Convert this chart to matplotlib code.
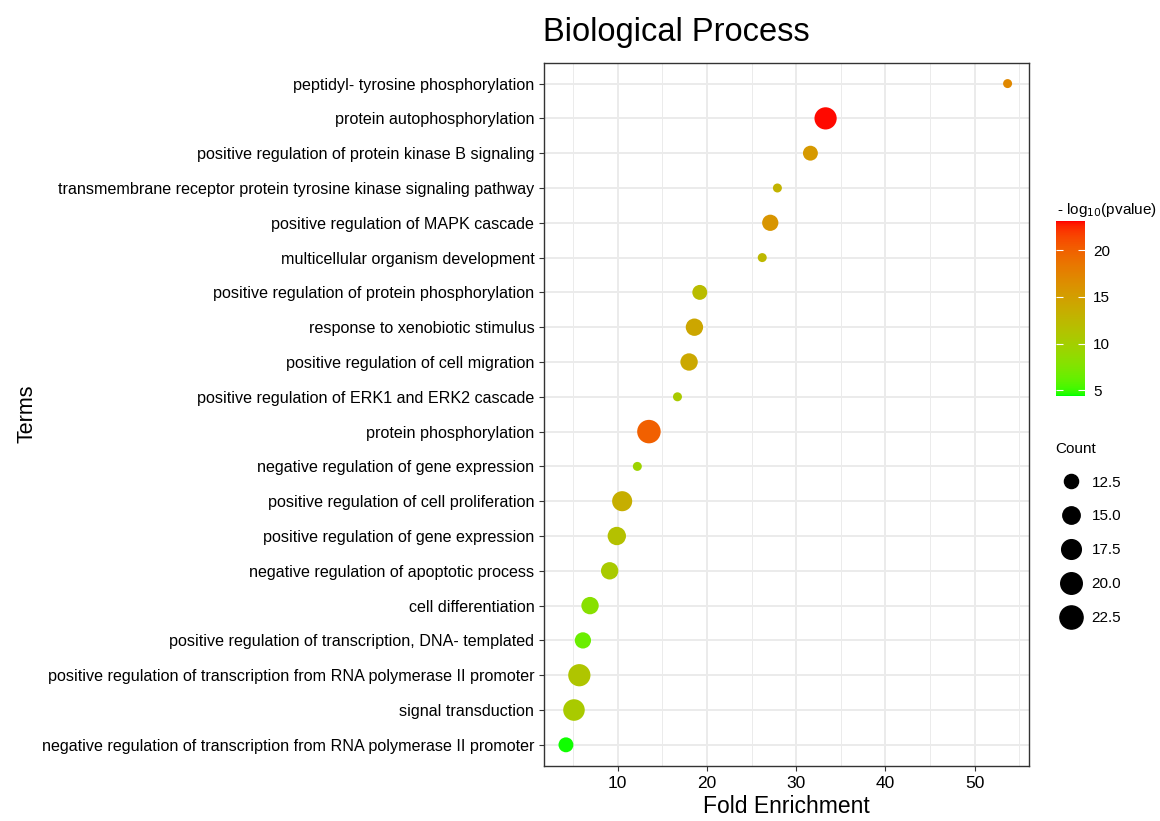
import numpy as np
import matplotlib
matplotlib.use("Agg")
import matplotlib.pyplot as plt
from matplotlib.colors import ListedColormap, Normalize
from matplotlib.lines import Line2D

plt.rcParams['font.family'] = ['Liberation Sans', 'DejaVu Sans']

# data (top to bottom as in the chart)
terms = [
    "peptidyl- tyrosine phosphorylation",
    "protein autophosphorylation",
    "positive regulation of protein kinase B signaling",
    "transmembrane receptor protein tyrosine kinase signaling pathway",
    "positive regulation of MAPK cascade",
    "multicellular organism development",
    "positive regulation of protein phosphorylation",
    "response to xenobiotic stimulus",
    "positive regulation of cell migration",
    "positive regulation of ERK1 and ERK2 cascade",
    "protein phosphorylation",
    "negative regulation of gene expression",
    "positive regulation of cell proliferation",
    "positive regulation of gene expression",
    "negative regulation of apoptotic process",
    "cell differentiation",
    "positive regulation of transcription, DNA- templated",
    "positive regulation of transcription from RNA polymerase II promoter",
    "signal transduction",
    "negative regulation of transcription from RNA polymerase II promoter",
]
fold = [53.7, 33.3, 31.6, 27.9, 27.1, 26.2, 19.2, 18.6, 18.0, 16.7,
        13.5, 12.2, 10.5, 9.9, 9.1, 6.9, 6.1, 5.7, 5.1, 4.2]
neglogp = [17.0, 23.0, 15.5, 13.0, 15.8, 12.5, 12.0, 14.2, 14.0, 10.5,
           20.0, 9.5, 13.5, 11.5, 10.5, 8.0, 6.5, 11.0, 10.5, 4.5]
count = [11, 21, 13, 11, 14, 11, 13, 15, 15, 11,
         23, 11, 18, 16, 15, 15, 14, 21, 20, 13]
count_breaks = [12.5, 15.0, 17.5, 20.0, 22.5]
cb_ticks = [5, 10, 15, 20]


# green -> red gradient interpolated in Lab space (like ggplot)
def to_lab(rgb):
    rgb = np.asarray(rgb, float)
    c = np.where(rgb <= 0.04045, rgb / 12.92, ((rgb + 0.055) / 1.055) ** 2.4)
    M = np.array([[0.4124, 0.3576, 0.1805], [0.2126, 0.7152, 0.0722], [0.0193, 0.1192, 0.9505]])
    xyz = M @ c / np.array([0.95047, 1.0, 1.08883])
    f = np.where(xyz > 0.008856, np.cbrt(xyz), 7.787 * xyz + 16 / 116)
    return np.array([116 * f[1] - 16, 500 * (f[0] - f[1]), 200 * (f[1] - f[2])])


def from_lab(lab):
    L, a, b = lab
    fy = (L + 16) / 116
    fx = fy + a / 500
    fz = fy - b / 200
    f = np.array([fx, fy, fz])
    xyz = np.where(f ** 3 > 0.008856, f ** 3, (f - 16 / 116) / 7.787) * np.array([0.95047, 1.0, 1.08883])
    Minv = np.array([[3.2406, -1.5372, -0.4986], [-0.9689, 1.8758, 0.0415], [0.0557, -0.2040, 1.0570]])
    c = Minv @ xyz
    c = np.clip(c, 0, 1)
    rgb = np.where(c <= 0.0031308, 12.92 * c, 1.055 * c ** (1 / 2.4) - 0.055)
    return np.clip(rgb, 0, 1)


lo, hi = to_lab([0, 1, 0]), to_lab([1, 0, 0])
cmap = ListedColormap([from_lab(lo + t * (hi - lo)) for t in np.linspace(0, 1, 256)])
norm = Normalize(vmin=4.4, vmax=23.1)

# size scale: diameter grows with sqrt of rescaled count
cmin, cmax = min(count), max(count)
def diam(c):
    return (9 + 14.5 * np.sqrt((np.asarray(c, float) - cmin) / (cmax - cmin))) * 0.72

fig = plt.figure(figsize=(11.6, 8.21), dpi=100)
ax = fig.add_axes([544 / 1160, 1 - 765.7 / 821, 485 / 1160, 703 / 821])

n = len(terms)
ypos = np.arange(n, 0, -1)
ax.scatter(fold, ypos, s=diam(count) ** 2, c=neglogp, cmap=cmap, norm=norm,
           edgecolors='none', zorder=3)

ax.set_xlim(1.74, 56.1)
ax.set_ylim(0.4, n + 0.6)
ax.set_xticks([10, 20, 30, 40, 50])
ax.set_xticks([5, 15, 25, 35, 45, 55], minor=True)
ax.set_yticks(ypos)
ax.set_yticklabels(terms)
ax.tick_params(axis='y', labelsize=11.65, colors='#333333', length=3.5, labelcolor='black')
ax.tick_params(axis='x', labelsize=12.5, colors='#333333', length=3.5, labelcolor='black', pad=4)
ax.tick_params(axis='x', which='minor', length=0)
ax.grid(True, which='major', color='#EBEBEB', lw=1.4, zorder=0)
ax.grid(True, which='minor', axis='x', color='#EBEBEB', lw=0.7, zorder=0)
for s in ax.spines.values():
    s.set_color('#333333')
    s.set_linewidth(1.0)

ax.set_xlabel("Fold Enrichment", fontsize=16.5, labelpad=3)
ax.set_ylabel("Terms", fontsize=15.5)
ax.yaxis.set_label_coords(-1.044, 0.5)
fig.text(676 / 1160, 1 - 33 / 821, "Biological Process", fontsize=23.5, ha='center', va='center')

# colorbar
cax = fig.add_axes([1056 / 1160, 1 - 396 / 821, 29 / 1160, 175 / 821])
cb = fig.colorbar(plt.cm.ScalarMappable(norm=norm, cmap=cmap), cax=cax)
cb.outline.set_visible(False)
cb.set_ticks(cb_ticks)
cax.tick_params(left=True, right=True, direction='in', color='white', length=5, width=0.8,
                labelsize=11, pad=6)
fig.text(1057 / 1160, 1 - 210 / 821, "- log$_{10}$(pvalue)", fontsize=11, va='center', ha='left')

# size legend
handles = [Line2D([], [], ls='', marker='o', ms=diam(b), color='black') for b in count_breaks]
fig.legend(handles, [f"{b:.1f}" for b in count_breaks], title="Count", loc='upper left',
           bbox_to_anchor=(1045 / 1160, 1 - 431 / 821), frameon=False, fontsize=11,
           title_fontsize=11, labelspacing=1.3, handletextpad=0.35, alignment='left',
           borderaxespad=0.3)

fig.savefig("out.png", dpi=100)
